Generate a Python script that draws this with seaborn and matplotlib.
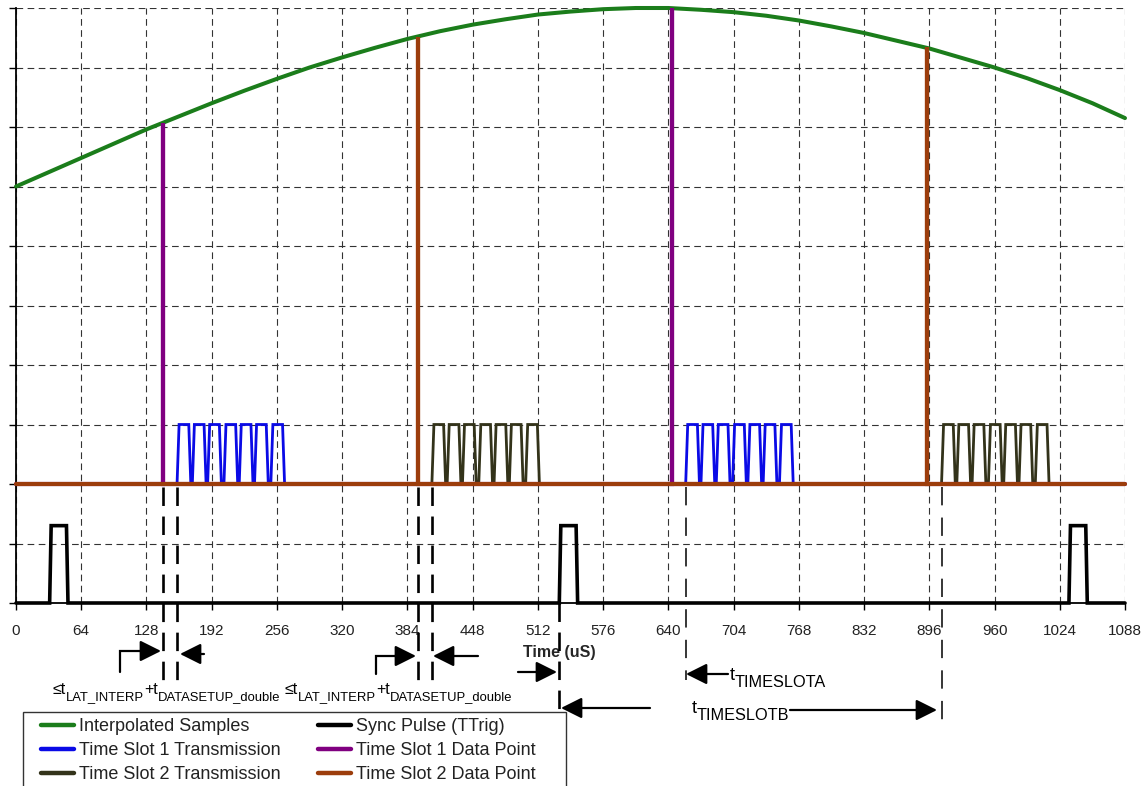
import matplotlib
matplotlib.use("Agg")
import matplotlib.pyplot as plt
import seaborn as sns
import pandas as pd
from matplotlib.lines import Line2D
from matplotlib.patches import Rectangle

# ---------------- data ----------------
time_ticks = [0, 64, 128, 192, 256, 320, 384, 448, 512, 576, 640, 704, 768, 832, 896, 960, 1024, 1088]
level_ticks = [0, 1, 2, 3, 4, 5, 6, 7, 8, 9, 10]

interp_x = [0, 32, 64, 96, 128, 160, 192, 224, 256, 288, 320, 352, 384, 416, 448, 480, 512,
            544, 576, 608, 640, 672, 704, 736, 768, 800, 832, 864, 896, 928, 960, 992, 1024,
            1056, 1088]
interp_y = [7.00, 7.24, 7.48, 7.72, 7.96, 8.18, 8.40, 8.61, 8.81, 9.00, 9.17, 9.33, 9.48,
            9.61, 9.72, 9.81, 9.89, 9.94, 9.98, 10.00, 10.00, 9.97, 9.93, 9.87, 9.79, 9.69,
            9.58, 9.45, 9.32, 9.16, 9.00, 8.82, 8.62, 8.40, 8.15]

sync_starts = [33, 533, 1033]
sync_width = 18
sync_low, sync_high = 0.0, 1.3

ts1_point_x = [144, 644]
ts1_point_y = [8.07, 10.0]
ts2_point_x = [394, 894]
ts2_point_y = [9.52, 9.34]
data_low = 2.0

ts1_burst_starts = [158, 657]
ts2_burst_starts = [408, 908]
pulse_offsets = [0, 15, 30, 46, 61, 76, 92]
tx_low, tx_high = 2.0, 3.0

legend_col1 = ["Interpolated Samples", "Time Slot 1 Transmission", "Time Slot 2 Transmission"]
legend_col2 = ["Sync Pulse (TTrig)", "Time Slot 1 Data Point", "Time Slot 2 Data Point"]

# ---------------- style ----------------
C_GREEN = "#1b7d1b"
C_BLUE = "#0a0ae6"
C_OLIVE = "#33331a"
C_BLACK = "#000000"
C_PURPLE = "#800080"
C_BROWN = "#9c3d0c"

W, H = 1146, 786
sns.set_theme(style="white")
plt.rcParams["font.family"] = ["Liberation Sans", "DejaVu Sans"]

fig = plt.figure(figsize=(W / 100, H / 100), dpi=100)
ax = fig.add_axes([16 / W, 1 - 603 / H, 1109 / W, 595 / H])
XMAX, YMAX = 1088, 10


def px2data(px, py):
    return (px - 16) / 1109 * XMAX, (603 - py) / 595 * YMAX


# ---------------- build series ----------------
def edge_series(starts, width, low, high, edge, x_end):
    xs, ys = [0], [low]
    for s in starts:
        xs += [s, s + edge, s + width - edge, s + width]
        ys += [low, high, high, low]
    xs.append(x_end)
    ys.append(low)
    return xs, ys


def burst_series(burst_starts, offsets, low, high):
    xs, ys = [], []
    for b in burst_starts:
        for o in offsets:
            s = b + o
            xs += [s, s + 2.0, s + 11.5, s + 13.5]
            ys += [low, high, high, low]
        xs.append(None)
        ys.append(None)
    return xs, ys


def spike_series(px_list, py_list, low, x_end):
    xs, ys = [0], [low]
    for x, y in zip(px_list, py_list):
        xs += [x, x, x]
        ys += [low, y, low]
    xs.append(x_end)
    ys.append(low)
    return xs, ys


sync_x, sync_y = edge_series(sync_starts, sync_width, sync_low, sync_high, 1.5, XMAX)
tx1_x, tx1_y = burst_series(ts1_burst_starts, pulse_offsets, tx_low, tx_high)
tx2_x, tx2_y = burst_series(ts2_burst_starts, pulse_offsets, tx_low, tx_high)
dp1_x, dp1_y = spike_series(ts1_point_x, ts1_point_y, data_low, XMAX)
dp2_x, dp2_y = spike_series(ts2_point_x, ts2_point_y, data_low, XMAX)

common = dict(ax=ax, estimator=None, sort=False, clip_on=False, legend=False)


def draw(xs, ys, color, lw, z):
    seg_x, seg_y = [], []
    for x, y in list(zip(xs, ys)) + [(None, None)]:
        if x is None:
            if seg_x:
                df = pd.DataFrame({"t": seg_x, "v": seg_y})
                sns.lineplot(data=df, x="t", y="v", color=color, lw=lw, zorder=z,
                             solid_joinstyle="miter", **common)
            seg_x, seg_y = [], []
        else:
            seg_x.append(x)
            seg_y.append(y)


draw(interp_x, interp_y, C_GREEN, 2.9, 5)
draw(sync_x, sync_y, C_BLACK, 2.6, 5)
draw(tx1_x, tx1_y, C_BLUE, 2.0, 5)
draw(tx2_x, tx2_y, C_OLIVE, 2.0, 5)
draw(dp1_x, dp1_y, C_PURPLE, 3.0, 6)
draw(dp2_x, dp2_y, C_BROWN, 3.0, 7)

# ---------------- axes ----------------
ax.set_xlim(0, XMAX)
ax.set_ylim(0, YMAX)
ax.set_xticks(time_ticks)
ax.set_xticklabels([str(t) for t in time_ticks], fontsize=11, color="#222222")
ax.set_yticks(level_ticks)
ax.set_yticklabels([])
ax.grid(True, color="#333333", linestyle=(0, (6, 4)), lw=0.8)
ax.set_axisbelow(True)
ax.tick_params(axis="both", which="both", bottom=True, left=True, direction="out",
               length=5, width=1.0, color="black", pad=10)
for side in ["top", "right"]:
    ax.spines[side].set_visible(False)
for side in ["left", "bottom"]:
    ax.spines[side].set_color("black")
    ax.spines[side].set_linewidth(1.3)
ax.set_ylabel("")
ax.set_xlabel("Time (uS)", fontsize=11.5, fontweight="bold")
ax.xaxis.set_label_coords((559 - 16) / 1109, (603 - 652) / 595)
ax.xaxis.label.set_verticalalignment("center")

# ---------------- annotation lines ----------------
def vdash(xd, py_top, py_bot, lw, dash):
    _, y0 = px2data(0, py_top)
    _, y1 = px2data(0, py_bot)
    ax.plot([xd, xd], [y0, y1], color="black", lw=lw, linestyle=(0, dash),
            clip_on=False, zorder=8)


for xd in [ts1_point_x[0], ts1_burst_starts[0], ts2_point_x[0], ts2_burst_starts[0]]:
    vdash(xd, 487, 684, 1.9, (7, 4))
vdash(sync_starts[1], 603, 712, 1.9, (7, 4))
vdash(ts1_burst_starts[1], 487, 680, 1.1, (12, 8))
vdash(ts2_burst_starts[1], 487, 722, 1.1, (12, 8))


def arrow(p_from, p_to):
    a = px2data(*p_from)
    b = px2data(*p_to)
    ax.annotate("", xy=b, xytext=a, xycoords="data", textcoords="data",
                annotation_clip=False,
                arrowprops=dict(arrowstyle="-|>,head_length=0.8,head_width=0.4",
                                color="black", lw=1.6, shrinkA=0, shrinkB=0,
                                mutation_scale=16))


def polyline(points):
    pts = [px2data(*p) for p in points]
    ax.plot([p[0] for p in pts], [p[1] for p in pts], color="black", lw=1.6,
            clip_on=False, zorder=8, solid_joinstyle="miter")


polyline([(120, 672), (120, 651), (150, 651)])
arrow((140, 651), (161, 651))
arrow((204, 654), (180, 654))
polyline([(376, 674), (376, 656), (405, 656)])
arrow((395, 656), (416, 656))
arrow((478, 656), (433, 656))
arrow((518, 672), (557, 672))
arrow((728, 674), (686, 674))
arrow((650, 708), (561, 708))
arrow((790, 710), (937, 710))

# ---------------- sub-scripted texts ----------------
fig.canvas.draw()
renderer = fig.canvas.get_renderer()


def runs(x_px, parts):
    for txt, size, base in parts:
        t = fig.text(x_px / W, 1 - base / H, txt, fontsize=size, ha="left", va="baseline",
                     color="black")
        bb = t.get_window_extent(renderer)
        x_px += bb.width


lat = [("\u2264t", 11.5, 694), ("LAT_INTERP", 9.4, 700), ("+t", 11.5, 694),
       ("DATASETUP_double", 9.4, 700)]
runs(53, lat)
runs(285, lat)
runs(730, [("t", 13, 680), ("TIMESLOTA", 11.7, 687)])
runs(692, [("t", 13, 713), ("TIMESLOTB", 11.7, 720)])

# ---------------- legend ----------------
fig.add_artist(Rectangle((23 / W, -0.05), (566 - 23) / W, (786 - 712) / H + 0.05,
                         transform=fig.transFigure, facecolor="white",
                         edgecolor="#333333", lw=1.0, zorder=2))

leg_kw = dict(loc="upper left", fontsize=13, frameon=False, handlelength=1.85,
              handletextpad=0.25, labelspacing=0.39, borderpad=0, borderaxespad=0)
h1 = [Line2D([0], [0], color=c, lw=3.2) for c in [C_GREEN, C_BLUE, C_OLIVE]]
h2 = [Line2D([0], [0], color=c, lw=3.2) for c in [C_BLACK, C_PURPLE, C_BROWN]]
leg1 = fig.legend(h1, legend_col1, bbox_to_anchor=(41 / W, 1 - 718 / H), **leg_kw)
leg2 = fig.legend(h2, legend_col2, bbox_to_anchor=(318 / W, 1 - 718 / H), **leg_kw)
for lg in (leg1, leg2):
    lg.set_zorder(5)
    for t in lg.get_texts():
        t.set_color("#222222")

fig.savefig("out.png", dpi=100)
